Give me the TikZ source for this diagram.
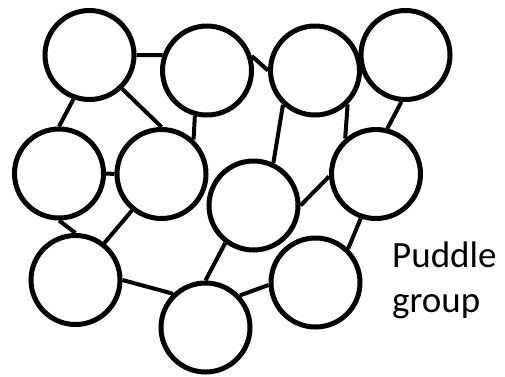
\documentclass[tikz,border=0pt]{standalone}
\usepackage{fontspec}
\setmainfont{Carlito}
\begin{document}
\begin{tikzpicture}[x=1pt,y=-1pt,
  puddle/.style={circle,draw=black,line width=5pt,minimum size=89pt,inner sep=0pt},
  link/.style={draw=black,line width=4pt},
  caption/.style={inner sep=0pt,align=left,font=\fontsize{37}{45}\selectfont}]
\useasboundingbox (0,0) rectangle (505,376);
% circles
\node[puddle] (c1)  at (89.5,55)    {};
\node[puddle] (c2)  at (207,70.5)   {};
\node[puddle] (c3)  at (315,70.5)   {};
\node[puddle] (c4)  at (405.5,55)   {};
\node[puddle] (c5)  at (59,173.5)   {};
\node[puddle] (c6)  at (161.5,174)  {};
\node[puddle] (c7)  at (253.5,205.5){};
\node[puddle] (c8)  at (376,174)    {};
\node[puddle] (c9)  at (75.5,280)   {};
\node[puddle] (c10) at (205.5,327.5){};
\node[puddle] (c11) at (315.5,282.5){};
% connections
\draw[link] (c1.0)     -- (c2.161.7);
\draw[link] (c1.250)   -- (c5.90);
\draw[link] (c1.-46)   -- (c6.90);
\draw[link] (c2.255.4) -- (c6.47);
\draw[link] (c2.18.5)  -- (c3.180);
\draw[link] (c3.227.4) -- (c7.65);
\draw[link] (c3.-46)   -- (c8.131.9);
\draw[link] (c4.265.5) -- (c8.76.8);
\draw[link] (c5.0)     -- (c6.180);
\draw[link] (c5.270)   -- (c9.90);
\draw[link] (c6.231.7) -- (c9.52.4);
\draw[link] (c9.0)     -- (c10.134.7);
\draw[link] (c7.233.2) -- (c10.90);
\draw[link] (c10.43.3) -- (c11.183);
\draw[link] (c7.0)     -- (c8.183);
\draw[link] (c8.251.5) -- (c11.46.6);
% label
\node[caption,anchor=base west] (lbl) at (392,312) {Puddle\\group};
\end{tikzpicture}
\end{document}
